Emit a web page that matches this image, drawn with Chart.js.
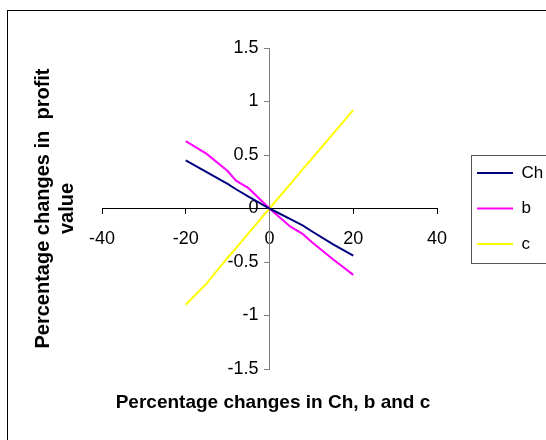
<!DOCTYPE html>
<html>
<head>
<meta charset="utf-8">
<script src="https://cdn.jsdelivr.net/npm/chart.js@4.4.0/dist/chart.umd.min.js"></script>
<style>
  body { margin: 0; background: #fff; }
</style>
</head>
<body>
<canvas id="myChart" width="546" height="440"></canvas>
<script>
// values
const xValues = [-20, -15, -10, -8, -5, 0, 5, 8, 10, 15, 20];
const chValues = [0.45, 0.34, 0.23, 0.18, 0.11, 0, -0.10, -0.16, -0.21, -0.33, -0.44];
const bValues = [0.63, 0.51, 0.35, 0.26, 0.19, 0, -0.17, -0.24, -0.31, -0.47, -0.62];
const cValues = [-0.90, -0.70, -0.46, -0.37, -0.23, 0, 0.23, 0.37, 0.46, 0.69, 0.92];
const xTicks = [-40, -20, 0, 20, 40];
const yTicks = [-1.5, -1, -0.5, 0, 0.5, 1, 1.5];

const FONT = "'Liberation Sans', Arial, sans-serif";

function toPoints(ys) {
    return xValues.map((x, i) => ({ x: x, y: ys[i] }));
}

// white page + outer frame like the excel chart area
const framePlugin = {
    id: 'frame',
    beforeDraw(chart) {
        const ctx = chart.ctx;
        ctx.save();
        ctx.fillStyle = '#fff';
        ctx.fillRect(0, 0, chart.width, chart.height);
        ctx.strokeStyle = '#000';
        ctx.lineWidth = 1;
        ctx.strokeRect(7.5, 10.5, chart.width + 10, chart.height + 10);
        ctx.restore();
    },
    afterDraw(chart) {
        // box round the legend
        const hb = chart.legend.legendHitBoxes;
        if (!hb || !hb.length) return;
        const last = hb[hb.length - 1];
        const left = Math.round(hb[0].left - 6) + 0.5;
        const top = Math.round(hb[0].top - 10) + 0.5;
        const bottom = Math.round(last.top + last.height + 10) + 0.5;
        const ctx = chart.ctx;
        ctx.save();
        ctx.strokeStyle = '#555';
        ctx.lineWidth = 1;
        ctx.strokeRect(left, top, chart.width, bottom - top);
        ctx.restore();
    }
};

const ctx = document.getElementById('myChart');

new Chart(ctx, {
    type: 'scatter',
    data: {
        datasets: [{
                label: 'Ch',
                data: toPoints(chValues),
                borderColor: '#000080',
                backgroundColor: '#000080',
                borderWidth: 2
            },
            {
                label: 'b',
                data: toPoints(bValues),
                borderColor: '#FF00FF',
                backgroundColor: '#FF00FF',
                borderWidth: 2
            },
            {
                label: 'c',
                data: toPoints(cValues),
                borderColor: '#FFFF00',
                backgroundColor: '#FFFF00',
                borderWidth: 2
            }
        ]
    },
    options: {
        responsive: false,
        animation: false,
        showLine: true,
        elements: {
            point: { radius: 0, hoverRadius: 0 },
            line: { tension: 0 }
        },
        layout: {
            padding: { top: 48, left: 0, right: 0, bottom: 0 }
        },
        scales: {
            x: {
                type: 'linear',
                min: -40,
                max: 40,
                position: { y: 0 },
                afterBuildTicks: axis => { axis.ticks = xTicks.map(v => ({ value: v })); },
                grid: { drawOnChartArea: false, drawTicks: true, tickLength: 5, color: '#000' },
                border: { color: '#000', width: 1 },
                ticks: {
                    autoSkip: false, maxRotation: 0, padding: 15, color: '#000',
                    font: { family: FONT, size: 18 },
                    callback: v => String(v)
                }
            },
            y: {
                type: 'linear',
                min: -1.5,
                max: 1.5,
                // x = 0 sits in the middle, so 'center' puts the axis there
                position: 'center',
                afterBuildTicks: axis => { axis.ticks = yTicks.map(v => ({ value: v })); },
                grid: { drawOnChartArea: false, drawTicks: true, tickLength: 5, color: '#808080' },
                border: { color: '#808080', width: 1 },
                ticks: {
                    autoSkip: false, padding: 6, color: '#000',
                    font: { family: FONT, size: 18 },
                    callback: v => String(v)
                }
            },
            // empty spacer between plot and legend
            gap: {
                type: 'linear',
                position: 'right',
                display: true,
                grid: { display: false },
                border: { display: false },
                ticks: { display: false },
                afterFit(scale) { scale.width = 21.5; }
            }
        },
        plugins: {
            legend: {
                position: 'right',
                fullSize: false,
                maxWidth: 87.5,
                labels: {
                    usePointStyle: true,
                    pointStyle: 'line',
                    pointStyleWidth: 36,
                    padding: 18.5,
                    color: '#000',
                    font: { family: FONT, size: 17 }
                }
            },
            title: {
                display: true,
                position: 'bottom',
                text: 'Percentage changes in Ch, b and c',
                color: '#000',
                font: { family: FONT, size: 19, weight: 'bold', lineHeight: 1.2 },
                padding: { top: 22.6, bottom: 25.6 }
            },
            subtitle: {
                display: true,
                position: 'left',
                fullSize: false,
                text: ['Percentage changes in  profit', 'value'],
                color: '#000',
                font: { family: FONT, size: 20, weight: 'bold', lineHeight: 1.22 },
                padding: { top: 31.3, bottom: 21.9 }
            },
            tooltip: { enabled: false }
        }
    },
    plugins: [framePlugin]
});
</script>
</body>
</html>
